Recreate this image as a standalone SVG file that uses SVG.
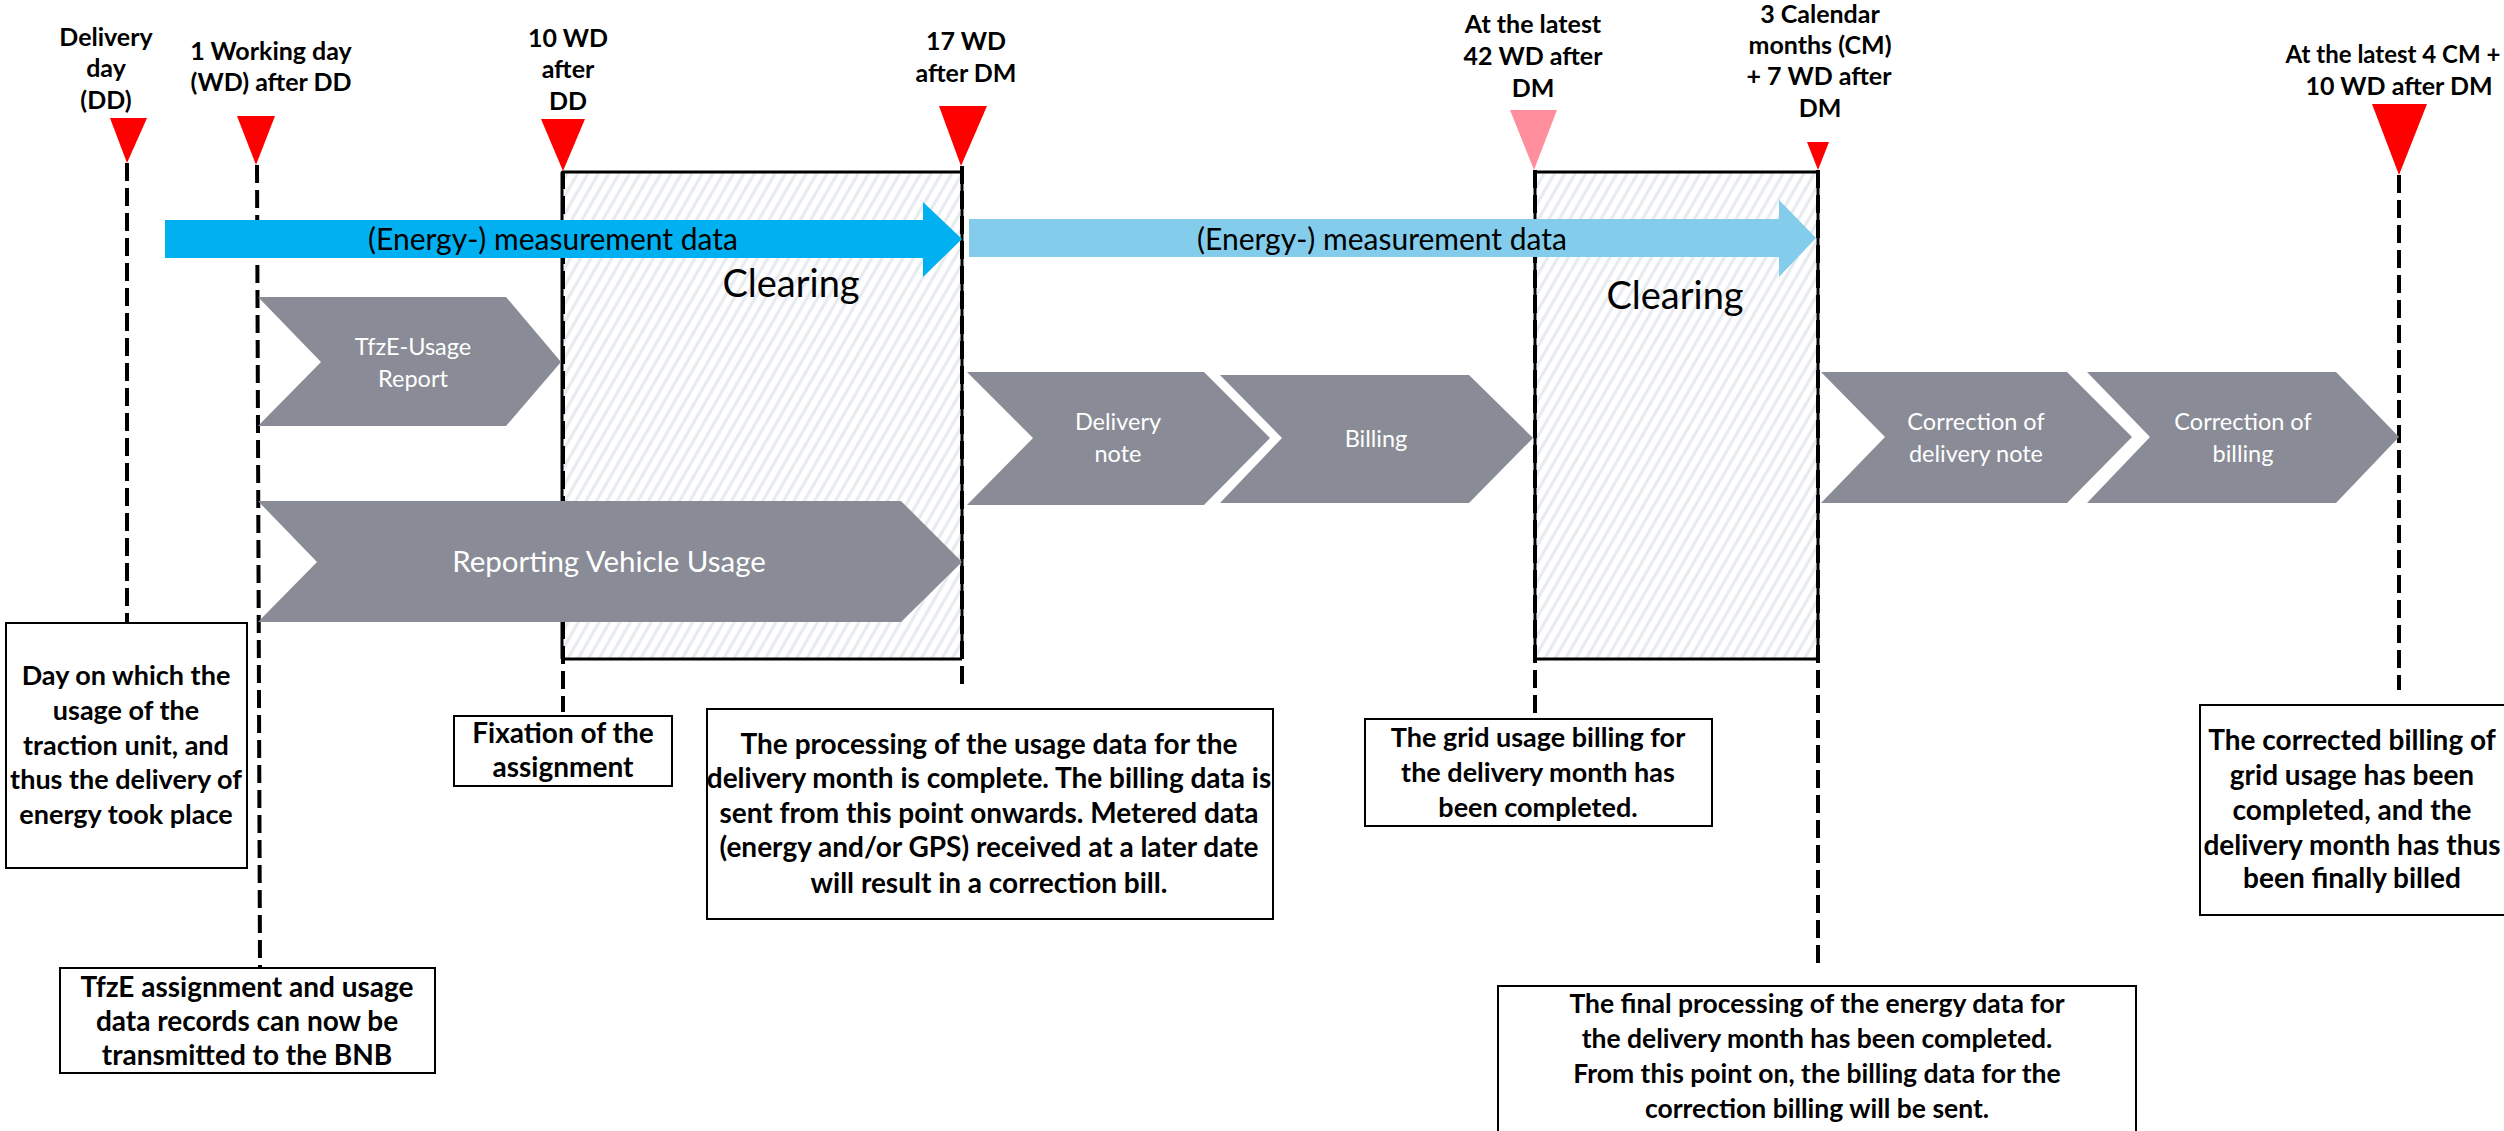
<svg xmlns="http://www.w3.org/2000/svg" width="2504" height="1131" viewBox="0 0 2504 1131">
<style>
.lbl{font-family:Lato,"Liberation Sans",sans-serif;font-weight:700;font-size:25px;text-anchor:middle;fill:#000}
.note{font-family:Lato,"Liberation Sans",sans-serif;font-weight:700;font-size:28px;text-anchor:middle;fill:#000}
.ct{font-family:Lato,"Liberation Sans",sans-serif;font-weight:400;font-size:23.5px;text-anchor:middle;fill:#fff}
.at{font-family:Lato,"Liberation Sans",sans-serif;font-weight:400;font-size:30px;text-anchor:middle;fill:#000}
.clr{font-family:Lato,"Liberation Sans",sans-serif;font-weight:400;font-size:38px;text-anchor:middle;fill:#000}
.chev{fill:#898C96}
.tri{fill:#FF0000}
.box{fill:#fff;stroke:#000;stroke-width:2}
.dash{stroke:#000;stroke-width:4;stroke-dasharray:18 7;fill:none}
.edge{stroke:#000;stroke-width:3;fill:none}
</style>
<defs>
<pattern id="hatch" width="9" height="9" patternUnits="userSpaceOnUse" patternTransform="rotate(30)">
<rect width="9" height="9" fill="#fff"/>
<line x1="2" y1="0" x2="2" y2="9" stroke="#E6E9EE" stroke-width="3"/>
</pattern>
</defs>
<rect width="2504" height="1131" fill="#fff"/>

<g id="clearing1">
<rect x="562" y="172" width="400" height="487" fill="url(#hatch)"/>
<path class="edge" d="M562 172H962M562 659H962M562 172V659M962 172V659"/>
<text class="clr" x="791" y="297">Clearing</text>
</g>
<g id="clearing2">
<rect x="1535" y="172" width="283" height="487" fill="url(#hatch)"/>
<path class="edge" d="M1535 172H1818M1535 659H1818M1535 172V659M1818 172V659"/>
<text class="clr" x="1675" y="309">Clearing</text>
</g>

<g id="connectors">
<line class="dash" x1="127" y1="163" x2="127" y2="623"/>
<line class="dash" x1="257" y1="165" x2="260" y2="968"/>
<line class="dash" x1="563" y1="171" x2="563" y2="712"/>
<line class="dash" x1="962" y1="166" x2="962" y2="690"/>
<line class="dash" x1="1535" y1="170" x2="1535" y2="719"/>
<line class="dash" x1="1818" y1="170" x2="1818" y2="968"/>
<line class="dash" x1="2399" y1="175" x2="2399" y2="690"/>
</g>

<g id="arrow-energy-1">
<polygon points="165,220 923,220 923,202 962,239 923,277 923,258 165,258" fill="#00B0F0"/>
<text class="at" x="553" y="250">(Energy-) measurement data</text>
</g>
<g id="arrow-energy-2">
<polygon points="969,219 1779,219 1779,200 1816,238 1779,277 1779,257 969,257" fill="#83CCEB"/>
<text class="at" x="1382" y="250">(Energy-) measurement data</text>
</g>

<g id="step-tfze-usage-report">
<polygon class="chev" points="258,297 506,297 561,362 506,426 258,426 321,362"/>
<text class="ct" x="413" y="355">TfzE-Usage</text>
<text class="ct" x="413" y="387">Report</text>
</g>
<g id="step-reporting-vehicle-usage">
<polygon class="chev" points="258,501 901,501 962,562 901,622 258,622 317,562"/>
<text class="ct" x="609" y="572" style="font-size:29.5px">Reporting Vehicle Usage</text>
</g>
<g id="step-delivery-note">
<polygon class="chev" points="967,372 1204,372 1270,438 1204,505 967,505 1033,438"/>
<text class="ct" x="1118" y="430">Delivery</text>
<text class="ct" x="1118" y="462">note</text>
</g>
<g id="step-billing">
<polygon class="chev" points="1220,375 1469,375 1533,438 1469,503 1220,503 1282,438"/>
<text class="ct" x="1376" y="447">Billing</text>
</g>
<g id="step-correction-delivery-note">
<polygon class="chev" points="1821,372 2067,372 2132,437 2067,503 1821,503 1885,437"/>
<text class="ct" x="1976" y="430">Correction of</text>
<text class="ct" x="1976" y="462">delivery note</text>
</g>
<g id="step-correction-billing">
<polygon class="chev" points="2087,372 2336,372 2399,437 2336,503 2087,503 2150,437"/>
<text class="ct" x="2243" y="430">Correction of</text>
<text class="ct" x="2243" y="462">billing</text>
</g>

<g id="m-delivery-day">
<polygon class="tri" points="110,118 147,118 127,163"/>
<text class="lbl" x="106" y="46">Delivery</text>
<text class="lbl" x="106" y="77">day</text>
<text class="lbl" x="106" y="109">(DD)</text>
</g>
<g id="m-1wd">
<polygon class="tri" points="237,116 275,116 256,165"/>
<text class="lbl" x="271" y="60">1 Working day</text>
<text class="lbl" x="271" y="91">(WD) after DD</text>
</g>
<g id="m-10wd">
<polygon class="tri" points="541,119 585,119 563,171"/>
<text class="lbl" x="568" y="47">10 WD</text>
<text class="lbl" x="568" y="78">after</text>
<text class="lbl" x="568" y="110">DD</text>
</g>
<g id="m-17wd">
<polygon class="tri" points="939,106 987,106 961,166"/>
<text class="lbl" x="966" y="50">17 WD</text>
<text class="lbl" x="966" y="82">after DM</text>
</g>
<g id="m-42wd">
<polygon points="1510,110 1557,110 1534,170" fill="#FF8F9C"/>
<text class="lbl" x="1533" y="33">At the latest</text>
<text class="lbl" x="1533" y="65">42 WD after</text>
<text class="lbl" x="1533" y="97">DM</text>
</g>
<g id="m-3cm">
<polygon class="tri" points="1807,142 1829,142 1818,170"/>
<text class="lbl" x="1820" y="23">3 Calendar</text>
<text class="lbl" x="1820" y="54">months (CM)</text>
<text class="lbl" x="1819" y="85">+ 7 WD after</text>
<text class="lbl" x="1820" y="117">DM</text>
</g>
<g id="m-4cm">
<polygon class="tri" points="2372,104 2427,104 2399,175"/>
<text class="lbl" x="2393" y="63" style="font-size:24px">At the latest 4 CM +</text>
<text class="lbl" x="2399" y="95">10 WD after DM</text>
</g>

<g id="note-delivery-day">
<rect class="box" x="6" y="623" width="241" height="245"/>
<text class="note" x="126" y="685" style="font-size:27px">Day on which the</text>
<text class="note" x="126" y="720" style="font-size:27px">usage of the</text>
<text class="note" x="126" y="755" style="font-size:27px">traction unit, and</text>
<text class="note" x="126" y="789" style="font-size:27px">thus the delivery of</text>
<text class="note" x="126" y="824" style="font-size:27px">energy took place</text>
</g>
<g id="note-tfze">
<rect class="box" x="60" y="968" width="375" height="105"/>
<text class="note" x="247" y="997">TfzE assignment and usage</text>
<text class="note" x="247" y="1031">data records can now be</text>
<text class="note" x="247" y="1065">transmitted to the BNB</text>
</g>
<g id="note-fixation">
<rect class="box" x="454" y="716" width="218" height="70"/>
<text class="note" x="563" y="743">Fixation of the</text>
<text class="note" x="563" y="777">assignment</text>
</g>
<g id="note-processing">
<rect class="box" x="707" y="709" width="566" height="210"/>
<text class="note" x="989" y="754">The processing of the usage data for the</text>
<text class="note" x="989" y="788">delivery month is complete. The billing data is</text>
<text class="note" x="989" y="823">sent from this point onwards. Metered data</text>
<text class="note" x="989" y="857">(energy and/or GPS) received at a later date</text>
<text class="note" x="989" y="893">will result in a correction bill.</text>
</g>
<g id="note-grid">
<rect class="box" x="1365" y="719" width="347" height="107"/>
<text class="note" x="1538" y="747" style="font-size:27px">The grid usage billing for</text>
<text class="note" x="1538" y="782" style="font-size:27px">the delivery month has</text>
<text class="note" x="1538" y="817" style="font-size:27px">been completed.</text>
</g>
<g id="note-final">
<rect class="box" x="1498" y="986" width="638" height="160"/>
<text class="note" x="1817" y="1013" style="font-size:26.5px">The final processing of the energy data for</text>
<text class="note" x="1817" y="1048" style="font-size:26.5px">the delivery month has been completed.</text>
<text class="note" x="1817" y="1083" style="font-size:26.5px">From this point on, the billing data for the</text>
<text class="note" x="1817" y="1118" style="font-size:26.5px">correction billing will be sent.</text>
</g>
<g id="note-corrected">
<rect class="box" x="2200" y="705" width="320" height="210"/>
<text class="note" x="2352" y="750">The corrected billing of</text>
<text class="note" x="2352" y="785">grid usage has been</text>
<text class="note" x="2352" y="820">completed, and the</text>
<text class="note" x="2352" y="855">delivery month has thus</text>
<text class="note" x="2352" y="888">been finally billed</text>
</g>
</svg>
